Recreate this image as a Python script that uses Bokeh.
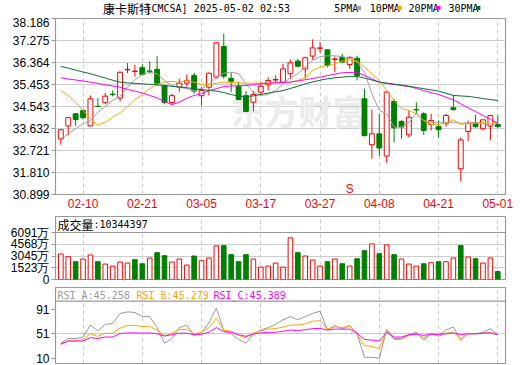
from bokeh.plotting import figure
from bokeh.models import Range1d, FixedTicker, Label, Span, NumeralTickFormatter, ColumnDataSource
from bokeh.layouts import column
from bokeh.embed import file_html
from bokeh.resources import INLINE
from bokeh.core.properties import value

# ---------------- data ----------------
dates = ["02-05", "02-06", "02-07", "02-10", "02-11", "02-12", "02-13", "02-14", "02-18", "02-19",
         "02-20", "02-21", "02-24", "02-25", "02-26", "02-27", "02-28", "03-03", "03-04", "03-05",
         "03-06", "03-07", "03-10", "03-11", "03-12", "03-13", "03-14", "03-17", "03-18", "03-19",
         "03-20", "03-21", "03-24", "03-25", "03-26", "03-27", "03-28", "03-31", "04-01", "04-02",
         "04-03", "04-04", "04-07", "04-08", "04-09", "04-10", "04-11", "04-14", "04-15", "04-16",
         "04-17", "04-21", "04-22", "04-23", "04-24", "04-25", "04-28", "04-29", "04-30", "05-01"]
date_tick_idx = [3, 11, 19, 27, 35, 43, 51, 59]

open_ = [33.20, 33.74, 34.24, 34.38, 33.74, 34.55, 34.70, 35.05, 34.89, 36.06,
         35.99, 36.15, 36.01, 36.08, 35.41, 34.71, 35.34, 35.51, 35.83, 34.99,
         35.34, 35.76, 37.03, 35.71, 35.37, 34.99, 34.72, 35.14, 35.44, 35.64,
         35.55, 35.90, 36.42, 36.10, 36.63, 36.95, 36.89, 36.49, 36.58, 36.28,
         36.54, 34.86, 32.96, 33.41, 32.49, 34.75, 33.92, 33.37, 34.42, 34.24,
         33.79, 33.71, 33.83, 34.49, 31.96, 33.51, 33.85, 33.62, 33.73, 33.80]
high = [33.60, 34.10, 34.28, 34.41, 35.00, 34.89, 35.11, 35.21, 35.99, 36.34,
        36.27, 36.29, 36.41, 36.63, 35.44, 35.07, 35.69, 35.86, 35.94, 35.34,
        35.95, 37.20, 37.55, 35.94, 35.58, 35.18, 35.18, 35.55, 35.76, 35.83,
        36.31, 36.49, 36.52, 36.61, 37.32, 37.21, 36.90, 36.61, 36.72, 36.61,
        36.65, 35.28, 34.41, 34.24, 35.18, 34.86, 33.99, 34.38, 34.72, 34.31,
        34.24, 33.96, 34.24, 35.00, 33.27, 33.96, 34.20, 34.00, 34.20, 34.17]
low = [32.96, 33.34, 33.73, 34.00, 33.72, 34.52, 34.65, 34.96, 34.75, 35.92,
       35.78, 35.83, 35.90, 35.41, 34.64, 34.63, 35.16, 35.37, 35.07, 34.58,
       35.00, 35.70, 35.69, 35.14, 34.80, 34.31, 34.34, 35.00, 35.21, 35.52,
       35.48, 35.69, 36.17, 35.69, 36.48, 36.77, 36.17, 35.96, 36.35, 36.10,
       35.62, 33.30, 32.38, 32.49, 32.21, 33.06, 33.21, 33.25, 34.24, 33.37,
       33.55, 33.25, 33.71, 34.38, 31.45, 33.11, 33.66, 33.55, 33.14, 33.66]
close = [33.58, 34.08, 34.00, 34.08, 34.86, 34.54, 34.97, 35.03, 35.96, 36.08,
         36.01, 35.87, 36.00, 35.51, 34.71, 34.99, 35.51, 35.62, 35.18, 35.21,
         35.92, 37.18, 35.80, 35.59, 34.83, 34.34, 35.04, 35.38, 35.62, 35.66,
         36.10, 36.35, 36.21, 36.56, 36.97, 36.97, 36.24, 36.51, 36.38, 36.58,
         35.83, 33.34, 33.41, 32.82, 35.14, 33.66, 33.69, 34.10, 34.40, 33.55,
         33.96, 33.58, 34.17, 34.41, 33.16, 33.85, 33.71, 33.99, 34.17, 33.71]

ma5 = [33.20, 33.41, 33.62, 33.83, 33.96, 34.31, 34.54, 34.79, 34.96, 35.34,
       35.65, 35.87, 35.96, 35.90, 35.62, 35.41, 35.34, 35.28, 35.20, 35.28,
       35.45, 35.76, 35.92, 35.96, 35.90, 35.48, 35.13, 35.00, 35.04, 35.20,
       35.48, 35.73, 35.90, 36.17, 36.45, 36.61, 36.64, 36.64, 36.61, 36.52,
       36.38, 35.96, 35.07, 34.38, 34.24, 33.69, 33.69, 33.89, 34.24, 33.96,
       33.89, 33.89, 33.89, 33.89, 33.85, 33.87, 33.89, 33.83, 33.76, 33.85]
ma10 = [35.20, 35.00, 34.72, 34.38, 34.03, 33.76, 33.89, 34.10, 34.28, 34.54,
        34.82, 35.04, 35.28, 35.45, 35.55, 35.58, 35.55, 35.62, 35.55, 35.45,
        35.45, 35.50, 35.55, 35.54, 35.52, 35.51, 35.51, 35.51, 35.51, 35.53,
        35.55, 35.55, 35.62, 35.73, 36.03, 36.17, 36.24, 36.31, 36.42, 36.48,
        36.42, 36.17, 35.90, 35.62, 35.20, 34.79, 34.45, 34.38, 34.24, 33.96,
        33.80, 33.80, 33.85, 33.99, 33.80, 33.85, 33.85, 33.87, 33.85, 33.89]
ma20 = [35.73, 35.68, 35.64, 35.60, 35.55, 35.50, 35.44, 35.39, 35.34, 35.25,
        35.18, 35.10, 35.00, 34.90, 34.75, 34.62, 34.72, 34.88, 35.00, 35.08,
        35.20, 35.28, 35.37, 35.39, 35.40, 35.41, 35.45, 35.48, 35.51, 35.52,
        35.54, 35.55, 35.60, 35.65, 35.70, 35.76, 35.82, 35.88, 35.94, 35.95,
        35.96, 35.83, 35.69, 35.55, 35.50, 35.45, 35.41, 35.37, 35.29, 35.20,
        35.12, 35.04, 34.93, 34.82, 34.65, 34.49, 34.33, 34.17, 34.01, 33.85]
ma30 = [36.20, 36.13, 36.05, 35.97, 35.90, 35.81, 35.72, 35.63, 35.55, 35.52,
        35.50, 35.48, 35.46, 35.44, 35.41, 35.38, 35.35, 35.32, 35.28, 35.24,
        35.21, 35.18, 35.12, 35.04, 34.97, 34.96, 34.98, 35.04, 35.10, 35.15,
        35.20, 35.29, 35.38, 35.48, 35.56, 35.63, 35.69, 35.73, 35.76, 35.79,
        35.79, 35.72, 35.64, 35.55, 35.51, 35.47, 35.43, 35.38, 35.33, 35.28,
        35.23, 35.18, 35.09, 35.00, 34.98, 34.96, 34.92, 34.87, 34.83, 34.79]

# volume in 万 shares; vol_up: close vs previous close
volume = [3307, 2958, 2306, 2654, 3176, 2306, 2001, 1740, 2262, 2132,
          2567, 2045, 2784, 3481, 3089, 2262, 2654, 1871, 3045, 2436,
          2784, 4351, 4394, 3220, 2306, 3220, 2654, 1610, 1740, 2132,
          1610, 5395, 3481, 3045, 2523, 1740, 2306, 2654, 2045, 1740,
          2697, 3742, 4612, 3350, 4481, 3220, 2654, 2001, 1740, 2045,
          2175, 2306, 2306, 2784, 4394, 2915, 2697, 2132, 2784, 1034]
vol_up = [1, 1, 0, 1, 1, 0, 1, 1, 1, 1,
          0, 0, 1, 0, 0, 1, 1, 1, 0, 1,
          1, 1, 0, 0, 0, 0, 1, 1, 1, 1,
          1, 1, 0, 1, 1, 1, 0, 1, 0, 1,
          0, 0, 1, 0, 1, 0, 1, 1, 1, 0,
          1, 0, 1, 1, 0, 1, 0, 1, 1, 0]

rsi_a = [35.4, 43.2, 43.2, 45.7, 65.5, 56.0, 66.6, 68.2, 84.8, 87.4,
         86.4, 79.6, 79.6, 61.3, 35.4, 43.2, 61.3, 65.0, 48.3, 53.5,
         69.1, 93.7, 56.2, 51.0, 41.6, 35.4, 51.0, 57.2, 61.3, 66.6,
         74.4, 79.6, 74.4, 79.6, 84.8, 88.5, 57.2, 65.0, 58.8, 65.0,
         51.0, 12.0, 12.0, 10.4, 58.8, 43.2, 43.2, 49.4, 53.5, 40.6,
         51.0, 48.3, 57.2, 62.4, 40.0, 52.0, 51.0, 53.5, 59.6, 49.5]
rsi_b = [32.7, 39.5, 39.5, 41.6, 51.0, 46.8, 52.0, 52.0, 60.4, 65.0,
         65.0, 62.9, 63.5, 57.2, 47.3, 52.0, 57.8, 58.8, 51.0, 53.5,
         61.3, 77.0, 57.2, 55.2, 48.3, 44.7, 52.0, 56.2, 58.8, 59.6,
         62.4, 65.5, 65.5, 67.6, 71.8, 72.8, 58.8, 62.4, 61.3, 64.0,
         51.0, 31.2, 30.2, 26.5, 56.2, 41.6, 41.6, 48.3, 51.0, 44.2,
         51.0, 46.8, 52.0, 53.5, 43.2, 51.0, 51.0, 52.0, 53.0, 49.5]
rsi_c = [34.3, 39.0, 39.0, 39.0, 44.7, 43.2, 45.7, 45.7, 51.5, 52.5,
         52.5, 52.0, 52.5, 51.0, 47.3, 49.5, 52.0, 52.0, 49.5, 50.5,
         53.5, 61.3, 54.6, 53.5, 49.5, 46.8, 50.5, 52.5, 53.5, 53.5,
         55.2, 57.2, 56.2, 57.8, 59.6, 60.0, 57.2, 58.8, 58.8, 58.8,
         52.0, 41.6, 40.6, 39.0, 53.5, 45.7, 45.7, 49.5, 50.5, 48.3,
         50.5, 50.0, 51.0, 52.5, 49.5, 51.0, 51.0, 52.0, 52.5, 49.5]

price_ticks = [30.899, 31.810, 32.721, 33.632, 34.543, 35.453, 36.364, 37.275, 38.186]
vol_ticks = [0, 1523, 3045, 4568, 6091]
vol_tick_labels = ["0", "1523万", "3045万", "4568万", "6091万"]
rsi_ticks = [10, 51, 91]

title_cn = "康卡斯特"
title_rest = "[CMCSA] 2025-05-02 02:53"
legend_names = ["5PMA", "10PMA", "20PMA", "30PMA"]
vol_header_cn = "成交量"
vol_header_rest = ":10344397"
rsi_header = ["RSI_A:45.258", "RSI_B:45.279", "RSI_C:45.389"]
signal_idx = [39]
signal_txt = ["S"]

# ---------------- style ----------------
RED = "#ff0000"
GREEN = "#008000"
MA_COLORS = ["#a0a0a0", "#ffa500", "#ff00ff", "#0b6e30"]
FRAME = "#999999"
GRID = "#cccccc"
AXFONT = "Liberation Sans"
MONO = "DejaVu Sans Mono"
CJK = "Noto Sans CJK SC"

n = len(close)
idx = list(range(n))
xr = Range1d(-0.72, 60.04)


def base_fig(height, yr, top, bottom):
    p = figure(width=520, height=height, x_range=xr, y_range=yr,
               output_backend="svg", toolbar_location=None,
               min_border_left=55, min_border_right=15,
               min_border_top=top, min_border_bottom=bottom)
    p.outline_line_color = FRAME
    p.outline_line_width = 1.2
    p.background_fill_color = "white"
    p.border_fill_color = "white"
    p.xgrid.ticker = FixedTicker(ticks=date_tick_idx)
    p.xgrid.grid_line_color = GRID
    p.xgrid.grid_line_dash = "4 3"
    p.ygrid.grid_line_color = GRID
    ax = p.yaxis[0]
    ax.axis_line_color = FRAME
    ax.major_tick_line_color = FRAME
    ax.major_tick_out = 4
    ax.major_tick_in = 0
    ax.minor_tick_line_color = None
    ax.major_label_text_font = AXFONT
    ax.major_label_text_font_size = "12px"
    ax.major_label_text_color = "#000000"
    ax.major_label_standoff = 2
    return p


def txt(p, x, y, text, color="#000000", font=MONO, size="10px", xu="screen", align="left"):
    p.add_layout(Label(x=x, y=y, x_units=xu, y_units="screen", text=text,
                       text_color=color, text_font=font, text_font_size=size,
                       text_baseline="middle", text_align=align))


# ---------------- header strip (title + MA legend) ----------------
p0 = figure(width=520, height=17, x_range=Range1d(0, 520), y_range=Range1d(17, 0),
            output_backend="svg", toolbar_location=None,
            x_axis_location=None, y_axis_location=None,
            min_border_left=0, min_border_right=0, min_border_top=0, min_border_bottom=0)
p0.outline_line_color = None
p0.xgrid.visible = False
p0.ygrid.visible = False
p0.text(x=[55], y=[8], text=[title_cn], text_font=value(CJK), text_font_size="12px",
        text_baseline="middle", text_color="#000000")
p0.text(x=[104], y=[8], text=[title_rest], text_font=value(MONO), text_font_size="10px",
        text_baseline="middle", text_color="#000000")
leg_x = [322, 363, 408, 454]
p0.text(x=leg_x, y=[8] * 4, text=legend_names, text_font=value(MONO), text_font_size="10px",
        text_baseline="middle", text_color="#000000")
p0.rect(x=[lx + 6 * len(nm) + 4.5 for lx, nm in zip(leg_x, legend_names)], y=[7.5] * 4,
        width=5, height=4, fill_color=MA_COLORS, line_color=None)

# ---------------- price panel ----------------
p1 = base_fig(198, Range1d(price_ticks[0], price_ticks[-1]), 1, 21)
p1.ygrid.ticker = FixedTicker(ticks=price_ticks)
p1.yaxis.ticker = FixedTicker(ticks=price_ticks)
p1.yaxis.formatter = NumeralTickFormatter(format="0.000")
xa = p1.xaxis[0]
xa.ticker = FixedTicker(ticks=date_tick_idx)
xa.major_label_overrides = {i: dates[i] for i in date_tick_idx}
xa.axis_line_color = None
xa.major_tick_line_color = None
xa.major_tick_out = 0
xa.major_tick_in = 0
xa.minor_tick_line_color = None
xa.minor_tick_out = 0
xa.major_label_text_color = RED
xa.major_label_text_font = AXFONT
xa.major_label_text_font_size = "12px"
xa.major_label_standoff = 4

# watermark
wm = Label(x=243, y=84, x_units="screen", y_units="screen", text="东方财富",
           text_color="#ebebeb", text_font=CJK, text_font_size="34px",
           text_font_style="bold", text_align="center", text_baseline="middle",
           level="underlay")
p1.add_layout(wm)

up = [c >= o for o, c in zip(open_, close)]
csrc = ColumnDataSource(dict(
    x=idx, high=high, low=low,
    top=[max(o, c) for o, c in zip(open_, close)],
    bottom=[min(o, c) for o, c in zip(open_, close)],
    color=[RED if u else GREEN for u in up],
    fill=["white" if u else GREEN for u in up],
))
p1.segment(x0="x", y0="low", x1="x", y1="high", color="color", line_width=1, source=csrc)
p1.vbar(x="x", top="top", bottom="bottom", width=0.66, fill_color="fill",
        line_color="color", line_width=1, source=csrc)

for ma, col in zip([ma5, ma10, ma20, ma30], MA_COLORS):
    p1.line(idx, ma, color=col, line_width=1)

for si, st in zip(signal_idx, signal_txt):
    txt(p1, si, 6, st, color=RED, font=AXFONT, size="12px", xu="data", align="center")

# ---------------- volume panel ----------------
vol_top = vol_ticks[-1] * 63.0 / 47.0
p2 = base_fig(71, Range1d(0, vol_top), 1, 7)
p2.xaxis.visible = False
p2.ygrid.ticker = FixedTicker(ticks=vol_ticks[1:-1])
p2.yaxis.ticker = FixedTicker(ticks=vol_ticks)
p2.yaxis.major_label_overrides = dict(zip(vol_ticks, vol_tick_labels))
vsrc = ColumnDataSource(dict(
    x=idx, v=volume,
    color=[RED if u else GREEN for u in vol_up],
    fill=["white" if u else GREEN for u in vol_up],
))
p2.vbar(x="x", top="v", bottom=0, width=0.62, fill_color="fill",
        line_color="color", line_width=1, source=vsrc)
p2.add_layout(Span(location=vol_ticks[-1], dimension="width", line_color=FRAME, line_width=1.2))
txt(p2, 2, 55, vol_header_cn, font=CJK, size="12px")
txt(p2, 38, 55, vol_header_rest)

# ---------------- RSI panel ----------------
p3 = base_fig(79, Range1d(1.7, 127.9), 1, 2)
p3.xaxis.visible = False
p3.ygrid.ticker = FixedTicker(ticks=[51])
p3.yaxis.ticker = FixedTicker(ticks=rsi_ticks)
rsi_colors = ["#999999", "#ffa500", "#ff00ff"]
for r, col in zip([rsi_a, rsi_b, rsi_c], rsi_colors):
    p3.line(idx, r, color=col, line_width=1)
p3.add_layout(Span(location=105.2, dimension="width", line_color=FRAME, line_width=1.2))
for t, col, hx in zip(rsi_header, rsi_colors, [2, 81, 158]):
    txt(p3, hx, 68.5, t, color=col)

layout = column(p0, p1, p2, p3, spacing=0)
open("out.html", "w").write(file_html(layout, INLINE))
